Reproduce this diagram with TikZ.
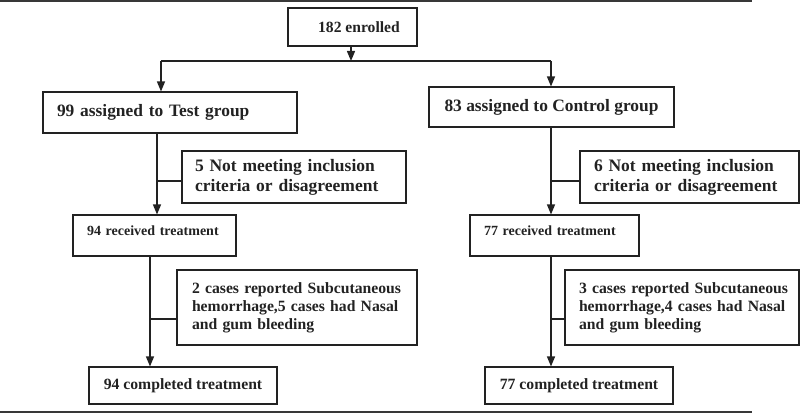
\documentclass[tikz,border=0pt]{standalone}
\usepackage{fontspec}
\setmainfont{Liberation Serif}
\usetikzlibrary{arrows.meta}
\definecolor{ink}{HTML}{222222}
\begin{document}
\begin{tikzpicture}[x=1pt,y=-1pt,
  box/.style={draw=ink, line width=1.1pt, inner ysep=2pt, text=ink},
  lbox/.style={box, align=left},
  arr/.style={draw=ink, line width=1.3pt, -{Triangle[width=8pt,length=10pt]}},
  ln/.style={draw=ink, line width=1.3pt},
  rule/.style={draw=ink!90, line width=1.1pt},
  fbig/.style={font=\bfseries\fontsize{17.4pt}{20pt}\selectfont},
  fmid/.style={font=\bfseries\fontsize{15.7pt}{18pt}\selectfont},
  fsmall/.style={font=\bfseries\fontsize{14pt}{16pt}\selectfont}]
\useasboundingbox (0,0) rectangle (800,414);
% rules
\coordinate (rt0) at (0,1);
\coordinate (rt1) at (752,1);
\coordinate (rb0) at (0,412);
\coordinate (rb1) at (752,412);
\draw[rule] (rt0) -- (rt1);
\draw[rule] (rb0) -- (rb1);
% nodes
\node[box, font=\bfseries\fontsize{15.6pt}{18pt}\selectfont, minimum width=129pt, minimum height=38pt] (enrolled) at (352.5,27) {\hspace*{13pt}182 enrolled};
\node[lbox, fbig, text width=226pt, inner xsep=14pt, minimum height=41pt] (testg) at (170,112.5) {99 assigned to Test group};
\node[box, fbig, minimum width=245pt, minimum height=40pt] (ctrlg) at (551.5,107) {83 assigned to Control group};
\node[lbox, font=\bfseries\fontsize{17.5pt}{20pt}\selectfont, text width=198pt, inner xsep=13pt, minimum height=52pt] (excl1) at (294,177) {\mbox{5 Not meeting inclusion}\\\mbox{criteria or disagreement}};
\node[lbox, font=\bfseries\fontsize{17.5pt}{20pt}\selectfont, text width=191pt, inner xsep=14pt, minimum height=52pt] (excl2) at (689.5,177) {\mbox{6 Not meeting inclusion}\\\mbox{criteria or disagreement}};
\node[lbox, fsmall, text width=135pt, inner xsep=14pt, minimum height=41pt, text height=6pt, text depth=6pt] (recv1) at (154.5,235.5) {94 received treatment};
\node[lbox, fsmall, text width=141pt, inner xsep=14pt, minimum height=41pt, text height=6pt, text depth=6pt] (recv2) at (554.5,235.5) {77 received treatment};
\node[lbox, fmid, text width=210pt, inner xsep=15pt, minimum height=75pt] (ae1) at (297,307.5) {\mbox{2 cases reported Subcutaneous}\\\mbox{hemorrhage,5 cases had Nasal}\\\mbox{and gum bleeding}};
\node[lbox, fmid, text width=206pt, inner xsep=14pt, minimum height=75pt] (ae2) at (682,307.5) {\mbox{3 cases reported Subcutaneous}\\\mbox{hemorrhage,4 cases had Nasal}\\\mbox{and gum bleeding}};
\node[box, fmid, minimum width=188pt, minimum height=37pt] (comp1) at (183,385.5) {94 completed treatment};
\node[box, fmid, minimum width=188pt, minimum height=37pt] (comp2) at (579,385.5) {77 completed treatment};
% split from enrolled
\coordinate (split) at ([xshift=-1.5pt]enrolled.south |- 0,61);
\coordinate (tl) at (161,61);
\coordinate (tr) at (551,61);
\draw[arr] ([xshift=-1.5pt]enrolled.south) -- (split);
\draw[ln] (tl) -- (tr);
\draw[arr] (tl) -- (tl |- testg.north);
\draw[arr] (tr) -- (tr |- ctrlg.north);
% left branch
\coordinate (l1) at ([xshift=-13pt]testg.south);
\draw[arr] (l1) -- (l1 |- recv1.north);
\draw[ln] (l1 |- excl1.west) ++(0,4) -- ([yshift=-4pt]excl1.west);
\coordinate (l2) at ([xshift=-4.5pt]recv1.south);
\draw[arr] (l2) -- (l2 |- comp1.north);
\draw[ln] (l2 |- ae1.west) ++(0,11.5) -- ([yshift=-11.5pt]ae1.west);
% right branch
\coordinate (r1) at ([xshift=-0.5pt]ctrlg.south);
\draw[arr] (r1) -- (r1 |- recv2.north);
\draw[ln] (r1 |- excl2.west) ++(0,4) -- ([yshift=-4pt]excl2.west);
\coordinate (r2) at ([xshift=-3.5pt]recv2.south);
\draw[arr] (r2) -- (r2 |- comp2.north);
\draw[ln] (r2 |- ae2.west) ++(0,11.5) -- ([yshift=-11.5pt]ae2.west);
\end{tikzpicture}
\end{document}
